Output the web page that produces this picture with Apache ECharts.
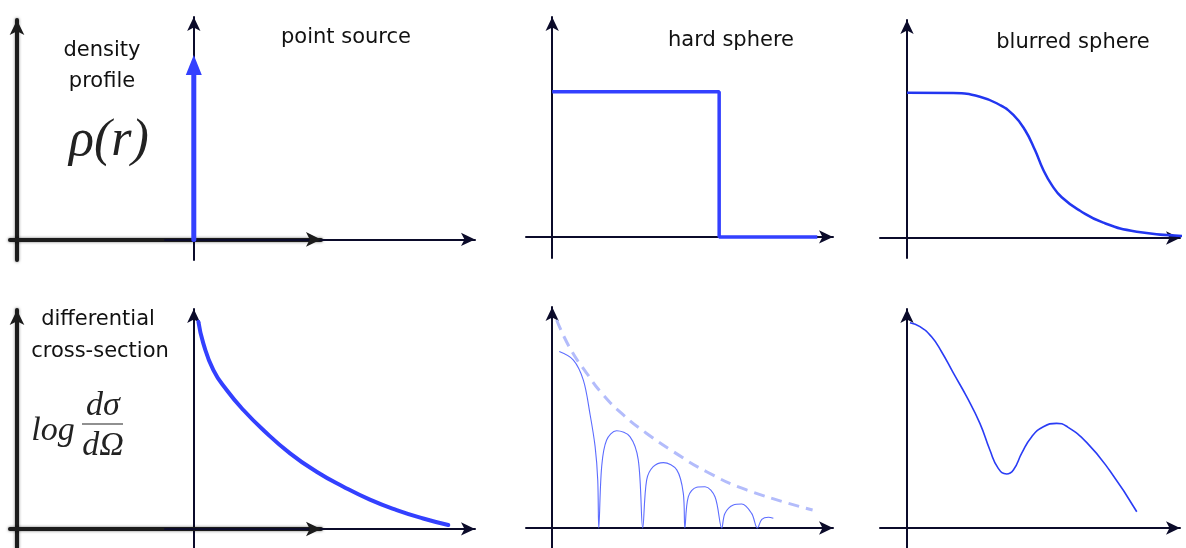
<!DOCTYPE html>
<html>
<head>
<meta charset="utf-8">
<script src="https://cdn.jsdelivr.net/npm/echarts@6/dist/echarts.min.js"></script>
<style>
  html, body { margin: 0; padding: 0; background: #ffffff; }
  #chart { width: 1186px; height: 548px; }
</style>
</head>
<body>
<div id="chart"></div>
<script>
// Density profiles (top row) and their scattering curves (bottom row), in arbitrary units.

// point source: a spike at r = 0
const pointSpike = [[0, 0], [0, 7.6]];
// point source cross-section: smooth monotone fall-off
const pointCross = [[0.16, 9.13], [0.33, 8.18], [0.68, 7.00], [1.14, 6.12], [1.72, 5.24], [2.41, 4.36],
  [3.34, 3.33], [4.26, 2.52], [5.19, 1.86], [6.11, 1.29], [7.04, 0.83], [7.96, 0.46], [8.83, 0.17]];

// hard sphere: constant density up to the radius, then zero
const hardProfile = [[0, 6.4], [6.38, 6.4], [6.38, 0], [10.13, 0]];
// hard sphere cross-section: envelope and oscillating lobes
const hardEnvelope = [[0.17, 9.13], [0.68, 7.89], [1.32, 6.79], [1.95, 5.84], [2.72, 4.96], [3.61, 4.15],
  [4.63, 3.35], [5.90, 2.47], [7.43, 1.67], [9.95, 0.79]];
const hardCross = [[0.27, 7.74], [0.81, 7.37], [1.19, 6.49], [1.44, 5.03], [1.64, 3.57], [1.74, 2.11], [1.78, 0],
  [1.89, 2.69], [2.08, 3.86], [2.46, 4.27], [2.97, 4.01], [3.29, 2.98], [3.46, 0],
  [3.61, 2.11], [3.86, 2.69], [4.25, 2.87], [4.76, 2.55], [5.01, 1.52], [5.07, 0],
  [5.20, 1.37], [5.52, 1.79], [5.84, 1.81], [6.22, 1.37], [6.48, 0],
  [6.60, 0.64], [6.92, 1.01], [7.24, 1.05], [7.62, 0.64], [7.84, 0],
  [8.01, 0.38], [8.26, 0.47], [8.45, 0.43]];

// blurred sphere: plateau with a soft edge
const blurProfile = [[0, 6.46], [1.71, 6.44], [2.70, 6.28], [3.44, 5.91], [3.94, 5.47], [4.37, 4.80],
  [4.74, 3.91], [5.05, 3.02], [5.36, 2.36], [5.73, 1.81], [6.41, 1.21], [7.27, 0.68], [8.51, 0.28], [10.3, 0.09]];
// blurred sphere cross-section: damped, one secondary maximum
const blurCross = [[0.11, 9.08], [0.48, 8.91], [0.91, 8.46], [1.28, 7.80], [1.72, 6.85], [2.21, 5.81],
  [2.70, 4.63], [3.07, 3.45], [3.38, 2.64], [3.69, 2.39], [3.94, 2.57], [4.25, 3.31], [4.62, 4.04],
  [5.05, 4.48], [5.54, 4.63], [5.91, 4.50], [6.66, 3.78], [7.52, 2.52], [8.51, 0.72]];

// panel text
const rowTitles = [['density', 'profile'], ['differential', 'cross-section']];
const panelTitles = ['point source', 'hard sphere', 'blurred sphere'];

const BLUE = '#3340ff';
const AXIS = '#0b0b2a';
const ARROW_HALF = 7;

// Frame builder: pixel box of a panel plus the pixel origin and scale of its axes
function frame(p) {
  const right = p.xTip - ARROW_HALF;
  const top = p.yTip + ARROW_HALF;
  return {
    grid: { left: p.x0, top: top, width: right - p.x0, height: p.y1 - top },
    xMin: (p.x0 - p.ox) / p.sx, xMax: (right - p.ox) / p.sx,
    yMin: -(p.y1 - p.oy) / p.sy, yMax: (p.oy - top) / p.sy,
    thick: !!p.thick
  };
}

const frames = [
  frame({ x0: 10, xTip: 328, yTip: 13, y1: 260, ox: 17, oy: 239.4, sx: 30, sy: 22.9, thick: true }),
  frame({ x0: 165, xTip: 482, yTip: 10, y1: 260, ox: 193.8, oy: 239.4, sx: 28.82, sy: 22.94 }),
  frame({ x0: 10, xTip: 328, yTip: 303, y1: 548, ox: 17, oy: 529, sx: 30, sy: 22.7, thick: true }),
  frame({ x0: 165, xTip: 482, yTip: 302, y1: 548, ox: 193.8, oy: 528.9, sx: 28.82, sy: 22.69 }),
  frame({ x0: 526, xTip: 840, yTip: 10, y1: 258, ox: 552.2, oy: 236.9, sx: 26.17, sy: 22.69 }),
  frame({ x0: 526, xTip: 840, yTip: 300, y1: 548, ox: 552.2, oy: 528, sx: 26.17, sy: 22.79 }),
  frame({ x0: 880, xTip: 1187, yTip: 13, y1: 258, ox: 907, oy: 238, sx: 27, sy: 22.5 }),
  frame({ x0: 880, xTip: 1187, yTip: 302, y1: 548, ox: 907, oy: 528, sx: 27, sy: 22.6 })
];

function axisLine(thick) {
  return {
    show: true,
    onZero: true,
    symbol: ['none', 'arrow'],
    symbolSize: thick ? [11, 15] : [10, 14],
    lineStyle: thick
      ? { color: '#1c1c1c', width: 4, shadowBlur: 3, shadowColor: 'rgba(0,0,0,0.55)' }
      : { color: AXIS, width: 2 }
  };
}

const grids = frames.map(f => f.grid);
const xAxes = frames.map((f, i) => ({
  type: 'value', gridIndex: i, min: f.xMin, max: f.xMax,
  axisLine: axisLine(f.thick), axisTick: { show: false }, axisLabel: { show: false }, splitLine: { show: false }
}));
const yAxes = frames.map((f, i) => ({
  type: 'value', gridIndex: i, min: f.yMin, max: f.yMax,
  axisLine: axisLine(f.thick), axisTick: { show: false }, axisLabel: { show: false }, splitLine: { show: false }
}));

function curve(idx, data, style, extra) {
  return Object.assign({
    type: 'line', xAxisIndex: idx, yAxisIndex: idx, data: data,
    symbol: 'none', lineStyle: style, silent: true, z: 3
  }, extra || {});
}

const series = [
  // spike with arrowhead
  {
    type: 'line', xAxisIndex: 1, yAxisIndex: 1, z: 4, silent: true,
    showSymbol: true,
    data: [
      { value: pointSpike[0], symbol: 'none' },
      { value: pointSpike[1], symbol: 'triangle', symbolSize: [16, 20] }
    ],
    lineStyle: { color: BLUE, width: 5, cap: 'round' },
    itemStyle: { color: BLUE, borderWidth: 0 }
  },
  curve(3, pointCross, { color: BLUE, width: 4, cap: 'round' }, { smooth: 0.5 }),
  curve(4, hardProfile, { color: BLUE, width: 3.5 }),
  curve(5, hardEnvelope, { color: '#b3bcfb', width: 3, type: [11, 7] }, { smooth: 0.5 }),
  curve(5, hardCross, { color: '#4a5cff', width: 1.1, opacity: 0.9 }, { smooth: 0.35 }),
  curve(6, blurProfile, { color: '#2236f0', width: 2.5 }, { smooth: 0.5 }),
  curve(7, blurCross, { color: '#2a3cf5', width: 1.6 }, { smooth: 0.5 })
];

const HAND = '21px "DejaVu Sans", sans-serif';
function label(text, x, y, font, fill) {
  return {
    type: 'text', x: x, y: y, silent: true,
    style: { text: text, font: font || HAND, fill: fill || '#111', align: 'center', verticalAlign: 'middle' }
  };
}
const mathFont = s => 'italic ' + s + 'px "Liberation Serif", serif';

const graphic = [
  label(rowTitles[0][0], 102, 51),
  label(rowTitles[0][1], 102, 82),
  label('ρ(r)', 109, 141, mathFont(52), '#222'),
  label(panelTitles[0], 346, 38),
  label(panelTitles[1], 731, 41),
  label(panelTitles[2], 1073, 43),
  label(rowTitles[1][0], 98, 320),
  label(rowTitles[1][1], 100, 352),
  label('log', 53, 431, mathFont(34), '#222'),
  label('dσ', 103, 406, mathFont(34), '#222'),
  { type: 'line', silent: true, shape: { x1: 82, y1: 424, x2: 123, y2: 424 }, style: { stroke: '#222', lineWidth: 1.2 } },
  label('dΩ', 103, 446, mathFont(34), '#222')
];

const chart = echarts.init(document.getElementById('chart'), null, { renderer: 'canvas' });
chart.setOption({
  animation: false,
  backgroundColor: '#ffffff',
  grid: grids,
  xAxis: xAxes,
  yAxis: yAxes,
  series: series,
  graphic: graphic
});
</script>
</body>
</html>
